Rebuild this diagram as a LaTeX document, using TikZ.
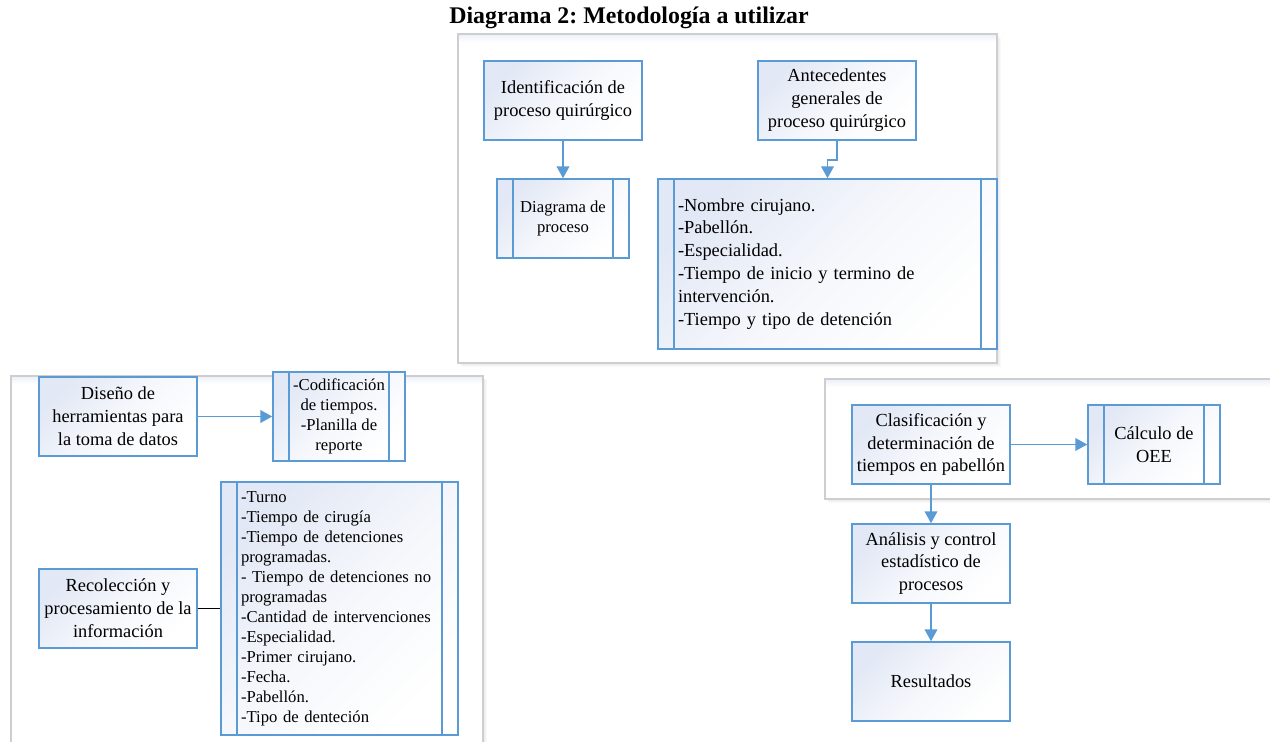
\documentclass[tikz,border=0pt]{standalone}
\usepackage{fontspec}
\setmainfont{Liberation Serif}
\frenchspacing
\usetikzlibrary{arrows.meta}

\definecolor{edgeblue}{RGB}{91,155,213}
\definecolor{tintblue}{RGB}{226,232,245}
\definecolor{framegrey}{RGB}{206,206,206}

\tikzset{
  box/.style={draw=edgeblue, line width=1.1pt, top color=tintblue, bottom color=white,
    middle color=tintblue!35!white, shading angle=45, inner sep=0pt, align=center,
    font=\fontsize{13.8}{17.2}\selectfont,
    minimum width=118.5pt, minimum height=59.25pt},
  subproc/.style={box, path picture={
    \draw[edgeblue, line width=1.1pt]
      ([xshift=12pt]path picture bounding box.north west) -- ([xshift=12pt]path picture bounding box.south west)
      ([xshift=-12pt]path picture bounding box.north east) -- ([xshift=-12pt]path picture bounding box.south east);}},
  small/.style={font=\fontsize{12.5}{15}\selectfont},
  flow/.style={draw=edgeblue, line width=1.4pt, -{Triangle[length=9pt,width=9.5pt]}},
  plainlink/.style={draw=black, line width=1pt},
  frame/.style={draw=framegrey, line width=0.9pt},
}

\begin{document}
\begin{tikzpicture}[x=0.75pt, y=-0.75pt]
\useasboundingbox (0,0) rectangle (1270,742);
\clip (0,0) rectangle (1270,742);

% title
\node[font=\bfseries\fontsize{17.9}{21}\selectfont, anchor=base] (title) at (629,24)
  {Diagrama 2: Metodología a utilizar};

% soft shadows of the three grouping frames
\foreach \d in {1,2,3,4} {
  \fill[black, opacity=0.025] (458+\d,34+\d) rectangle (997+\d,363+\d);
  \fill[black, opacity=0.025] (11+\d,376+\d) rectangle (483+\d,800);
  \fill[black, opacity=0.025] (825+\d,379+\d) rectangle (1300,499+\d);
}
% grouping frames
\fill[white] (458,34) rectangle (997,363);
\shade[top color=tintblue!70, bottom color=white] (458,34) rectangle (997,42);
\draw[frame] (458,34) rectangle (997,363);

\fill[white] (11,376) rectangle (483,800);
\shade[top color=tintblue!70, bottom color=white] (11,376) rectangle (483,384);
\draw[frame] (11,376) rectangle (483,800);

\fill[white] (825,379) rectangle (1300,499);
\shade[top color=tintblue!70, bottom color=white] (825,379) rectangle (1300,387);
\draw[frame] (825,379) rectangle (1300,499);

% upper block
\node[box] (ident) at (563,100.5) {Identificación de\\proceso quirúrgico};
\node[box] (antec) at (837,100.5) {Antecedentes\\generales de\\proceso quirúrgico};
\node[subproc, small, minimum width=99pt] (diagproc) at (563,218.5) {Diagrama de\\proceso};
\node[subproc, minimum width=254.25pt, minimum height=127.5pt, align=left, text width=224.25pt]
  (toplist) at (827.5,264)
  {-Nombre cirujano.\\-Pabellón.\\-Especialidad.\\-Tiempo de inicio y termino de\\intervención.\\-Tiempo y tipo de detención};

% left block
\node[box] (diseno) at (118,416.5) {Diseño de\\herramientas para\\la toma de datos};
\node[subproc, small, minimum width=99pt, minimum height=66.75pt] (codif) at (339,416.5)
  {-Codificación\\de tiempos.\\-Planilla de\\reporte};
\node[box] (recol) at (118,608.5) {Recolección y\\procesamiento de la\\información};
\node[subproc, small, minimum width=177.75pt, minimum height=189.75pt, align=left, text width=147.75pt]
  (leftlist) at (339.5,608.5)
  {-Turno\\-Tiempo de cirugía\\-Tiempo de detenciones\\programadas.\\- Tiempo de detenciones no\\programadas\\-Cantidad de intervenciones\\-Especialidad.\\-Primer cirujano.\\-Fecha.\\-Pabellón.\\-Tipo de denteción};

% right block
\node[box] (clasif) at (931,444.5) {Clasificación y\\determinación de\\tiempos en pabellón};
\node[subproc, minimum width=99pt] (calc) at (1154,444.5) {Cálculo de\\OEE};
\node[box] (analisis) at (931,563.5) {Análisis y control\\estadístico de\\procesos};
\node[box] (result) at (931,681.5) {Resultados};

% connectors
\draw[flow] (ident) -- (diagproc);
\draw[flow] (antec.south) -- ++(0,19) -| (toplist.north);
\draw[flow] (diseno) -- (codif);
\draw[plainlink] (recol) -- (leftlist);
\draw[flow] (clasif) -- (calc);
\draw[flow] (clasif) -- (analisis);
\draw[flow] (analisis) -- (result);
\end{tikzpicture}
\end{document}
